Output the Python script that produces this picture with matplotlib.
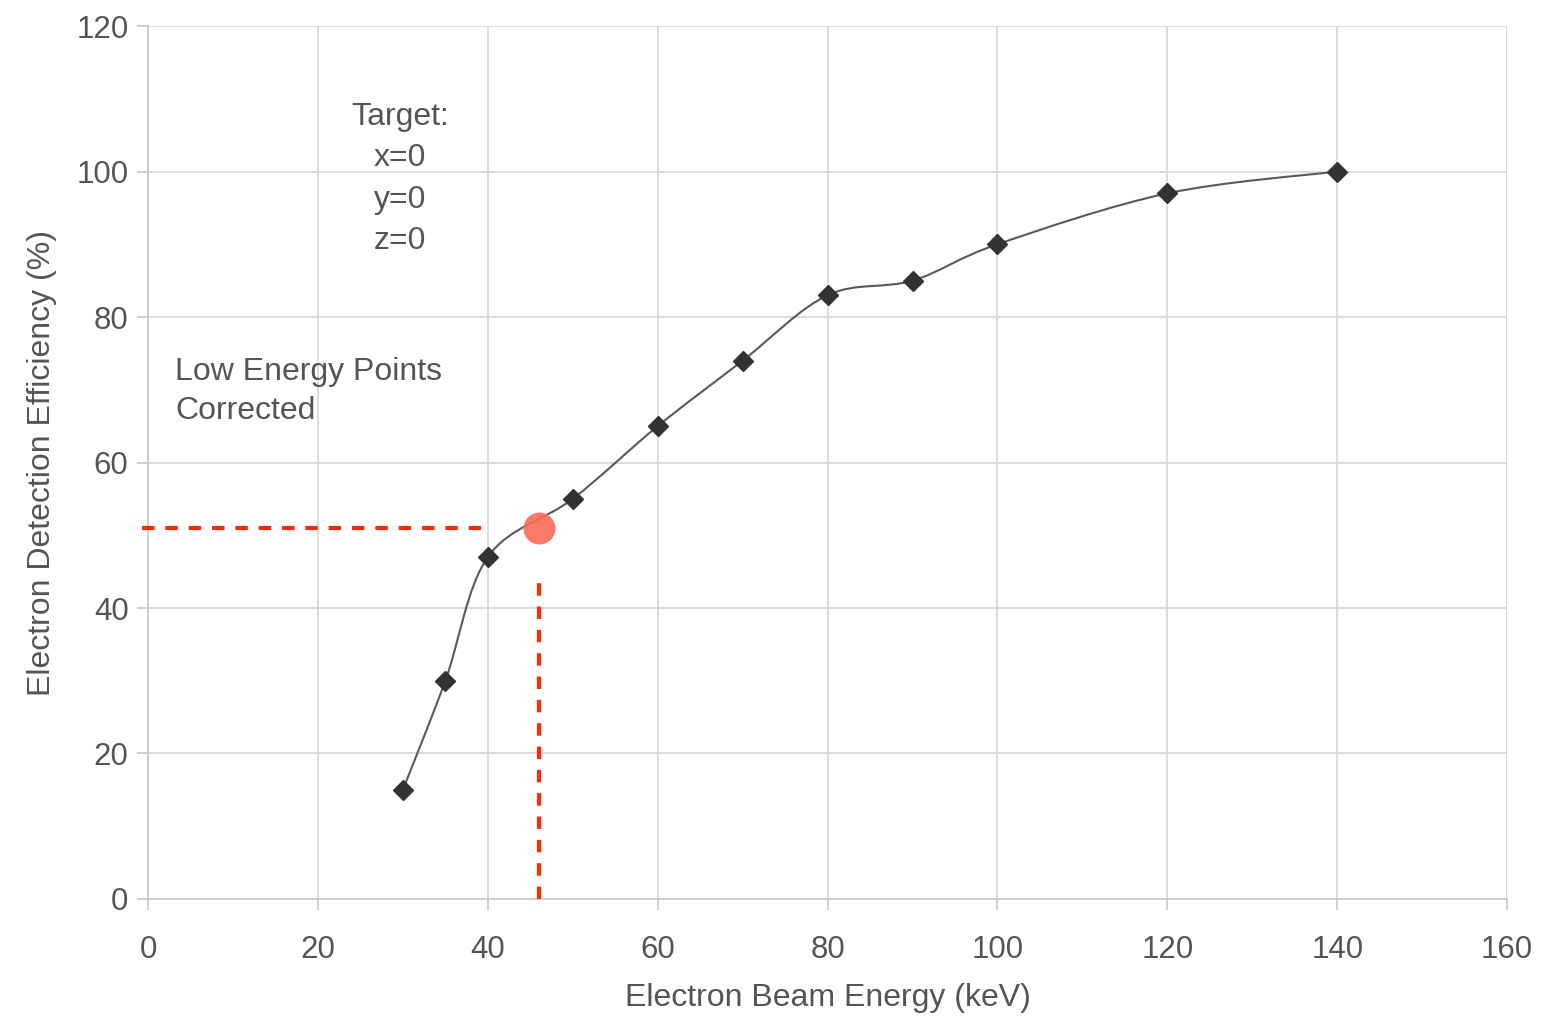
import numpy as np
import matplotlib.pyplot as plt
from matplotlib.path import Path
from matplotlib.patches import PathPatch

plt.rcParams['font.family'] = ['Liberation Sans', 'DejaVu Sans']

# beam energy (keV) and detection efficiency (%)
energy = [30, 35, 40, 50, 60, 70, 80, 90, 100, 120, 140]
efficiency = [15, 30, 47, 55, 65, 74, 83, 85, 90, 97, 100]

# highlighted point
mark_x = 46
mark_y = 51

x_ticks = [0, 20, 40, 60, 80, 100, 120, 140, 160]
y_ticks = [0, 20, 40, 60, 80, 100, 120]

text_color = '#555555'
grid_color = '#d6d6d6'

fig = plt.figure(figsize=(15.55, 10.21), dpi=100)
ax = fig.add_axes([0.0952, 0.1195, 0.874, 0.855])

# smoothed line (catmull-rom style bezier, like a spreadsheet "smoothed line")
pts = np.column_stack([energy, efficiency]).astype(float)
verts = [pts[0]]
codes = [Path.MOVETO]
n = len(pts)
for i in range(n - 1):
    p0 = pts[i - 1] if i > 0 else pts[i]
    p1 = pts[i]
    p2 = pts[i + 1]
    p3 = pts[i + 2] if i + 2 < n else pts[i + 1]
    c1 = p1 + (p2 - p0) / 6.0
    c2 = p2 - (p3 - p1) / 6.0
    verts += [c1, c2, p2]
    codes += [Path.CURVE4] * 3
ax.add_patch(PathPatch(Path(verts, codes), facecolor='none',
                       edgecolor='#5a5a5a', lw=1.5, zorder=3))

ax.plot(energy, efficiency, linestyle='none', marker='D', markersize=10,
        color='#333333', zorder=4)

# red guide lines to the highlighted point
ax.plot([-0.7, 40], [mark_y, mark_y], color='#ff2a0a', lw=3,
        dashes=(3, 2.6), clip_on=False, zorder=5)
ax.plot([mark_x, mark_x], [0, 44.8], color='#ff2a0a', lw=3,
        dashes=(3, 2.6), zorder=5)
ax.plot([mark_x], [mark_y], marker='o', markersize=23, color='#fa6a58',
        alpha=0.9, markeredgewidth=0, zorder=6)

ax.set_xlim(0, 160)
ax.set_ylim(0, 120)
ax.set_xticks(x_ticks)
ax.set_yticks(y_ticks)
ax.grid(True, color=grid_color, lw=1.2)
ax.set_axisbelow(True)
for side in ['top', 'right']:
    ax.spines[side].set_visible(False)
for side in ['left', 'bottom']:
    ax.spines[side].set_color('#c8c8c8')
    ax.spines[side].set_linewidth(1.2)
ax.tick_params(colors='#c8c8c8', labelcolor=text_color, labelsize=22.5,
               length=8, width=1.2)
ax.tick_params(axis='x', pad=18)
ax.tick_params(axis='y', pad=6)

ax.set_xlabel('Electron Beam Energy (keV)', fontsize=23, color=text_color,
              labelpad=13)
ax.set_ylabel('Electron Detection Efficiency (%)', fontsize=23,
              color=text_color, labelpad=14)

ax.text(29.7, 99.0, 'Target:\nx=0\ny=0\nz=0', fontsize=23, color=text_color,
        ha='center', va='center', linespacing=1.5)
ax.text(3.2, 69.8, 'Low Energy Points\nCorrected', fontsize=23,
        color=text_color, ha='left', va='center', linespacing=1.4)

fig.savefig('out.png', dpi=100, facecolor='white')
